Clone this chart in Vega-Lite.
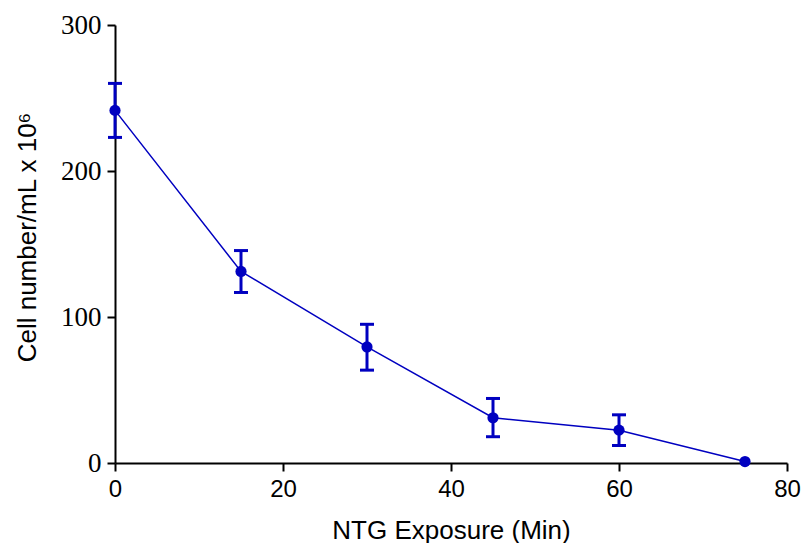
{
  "$schema": "https://vega.github.io/schema/vega-lite/v6.json",
  "width": 672,
  "height": 438,
  "autosize": {"type": "none"},
  "padding": {"left": 115, "top": 25, "right": 16, "bottom": 80},
  "background": "white",
  "config": {"view": {"stroke": null}},
  "data": {
    "values": [
      {"t": 0, "mean": 241.5, "lo": 223, "hi": 260},
      {"t": 15, "mean": 131.2, "lo": 116.8, "hi": 145.5},
      {"t": 30, "mean": 79.5, "lo": 63.6, "hi": 95},
      {"t": 45, "mean": 31, "lo": 18, "hi": 44.2},
      {"t": 60, "mean": 22.5, "lo": 12, "hi": 33},
      {"t": 75, "mean": 1, "lo": null, "hi": null}
    ]
  },
  "encoding": {
    "x": {
      "field": "t", "type": "quantitative",
      "scale": {"domain": [0, 80], "nice": false, "zero": false},
      "axis": {
        "title": "NTG Exposure (Min)", "values": [0, 20, 40, 60, 80],
        "grid": false, "domainColor": "black", "domainWidth": 2,
        "tickColor": "black", "tickWidth": 2, "tickSize": 8,
        "labelFont": "Liberation Sans", "labelFontSize": 24, "labelColor": "black",
        "labelPadding": 6, "labelFlush": false,
        "titleFont": "Liberation Sans", "titleFontSize": 26, "titleFontWeight": "normal",
        "titleColor": "black", "titlePadding": 16
      }
    },
    "y": {
      "field": "mean", "type": "quantitative",
      "scale": {"domain": [0, 300], "nice": false},
      "axis": {
        "title": "Cell number/mL x 10⁶", "values": [0, 100, 200, 300],
        "grid": false, "domainColor": "black", "domainWidth": 2,
        "tickColor": "black", "tickWidth": 2, "tickSize": 8,
        "labelFont": "Liberation Serif", "labelFontSize": 27, "labelColor": "black",
        "labelPadding": 6, "labelFlush": false,
        "titleFont": "Liberation Sans", "titleFontSize": 26, "titleFontWeight": "normal",
        "titleColor": "black", "titlePadding": 20, "titleY": 212
      }
    }
  },
  "layer": [
    {
      "transform": [{"filter": "datum.lo != null"}],
      "mark": {"type": "rule", "color": "#0000C0", "strokeWidth": 3, "opacity": 1},
      "encoding": {"y": {"field": "lo", "type": "quantitative"}, "y2": {"field": "hi"}}
    },
    {
      "transform": [{"filter": "datum.lo != null"}],
      "mark": {"type": "tick", "orient": "horizontal", "color": "#0000C0", "thickness": 3, "size": 14, "opacity": 1},
      "encoding": {"y": {"field": "lo", "type": "quantitative"}}
    },
    {
      "transform": [{"filter": "datum.lo != null"}],
      "mark": {"type": "tick", "orient": "horizontal", "color": "#0000C0", "thickness": 3, "size": 14, "opacity": 1},
      "encoding": {"y": {"field": "hi", "type": "quantitative"}}
    },
    {
      "mark": {"type": "line", "color": "#0000C0", "strokeWidth": 1.5},
      "encoding": {}
    },
    {
      "mark": {"type": "point", "filled": true, "color": "#0000C0", "size": 125, "opacity": 1},
      "encoding": {}
    }
  ]
}
